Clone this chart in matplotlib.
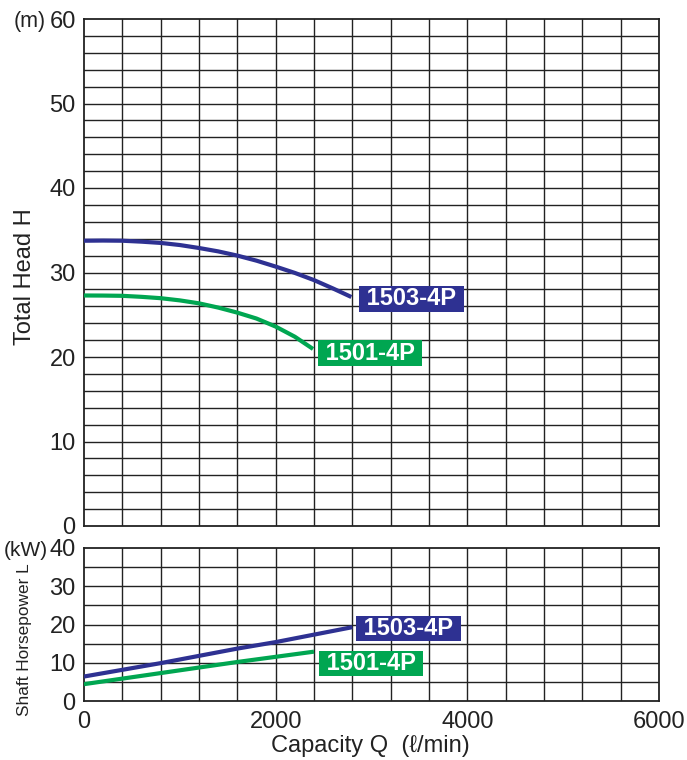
import matplotlib
matplotlib.use("Agg")
import matplotlib.pyplot as plt
import numpy as np

plt.rcParams['font.family'] = ['Liberation Sans', 'DejaVu Sans']

# ---- data ----
models = ["1503-4P", "1501-4P"]
colors = ["#2E3192", "#00A651"]

q_head_1503 = [0, 200, 400, 600, 800, 1000, 1200, 1400, 1600, 1800, 2000, 2200, 2400, 2600, 2790]
h_head_1503 = [33.76, 33.78, 33.76, 33.65, 33.5, 33.25, 32.9, 32.5, 32.0, 31.4, 30.7, 29.95, 29.1, 28.1, 27.1]
q_head_1501 = [0, 200, 400, 600, 800, 1000, 1200, 1400, 1600, 1800, 2000, 2200, 2390]
h_head_1501 = [27.28, 27.27, 27.24, 27.12, 26.96, 26.7, 26.35, 25.85, 25.25, 24.55, 23.6, 22.4, 20.95]

q_pow_1503 = [0, 800, 1600, 2000, 2800]
l_pow_1503 = [6.4, 9.9, 13.7, 15.4, 19.3]
q_pow_1501 = [0, 800, 1600, 2400]
l_pow_1501 = [4.4, 7.3, 10.2, 12.9]

x_ticks = [0, 2000, 4000, 6000]
head_ticks = [0, 10, 20, 30, 40, 50, 60]
pow_ticks = [0, 10, 20, 30, 40]

W, H = 687, 760
fig = plt.figure(figsize=(W / 100, H / 100), dpi=100)

def rect(l, t, r, b):
    return [l / W, 1 - b / H, (r - l) / W, (b - t) / H]

ax1 = fig.add_axes(rect(84, 19, 659, 526))
ax2 = fig.add_axes(rect(84, 548, 659, 701))

gridc = "#222222"
txtc = "#222222"
for ax, ymax, ystep, yticks in [(ax1, 60, 2, head_ticks), (ax2, 40, 5, pow_ticks)]:
    ax.set_xlim(0, 6000)
    ax.set_ylim(0, ymax)
    for xv in np.arange(400, 6000, 400):
        ax.axvline(xv, color=gridc, lw=1.0, zorder=1)
    for yv in np.arange(ystep, ymax, ystep):
        ax.axhline(yv, color=gridc, lw=1.0, zorder=1)
    for s in ax.spines.values():
        s.set_color(gridc)
        s.set_linewidth(1.3)
    ax.set_yticks(yticks)
    ax.tick_params(axis='y', length=0, pad=6, labelsize=17, colors=txtc)
    ax.set_xticks(x_ticks)
    ax.set_xticks([2000, 4000], minor=True)
    ax.tick_params(axis='x', which='major', length=0, pad=7, labelsize=17, colors=txtc)
    ax.tick_params(axis='x', which='minor', length=6, width=1.3, color=gridc, direction='out')

ax1.set_xticklabels([])

# curves
ax1.plot(q_head_1503, h_head_1503, color=colors[0], lw=3, zorder=3, solid_capstyle='butt')
ax1.plot(q_head_1501, h_head_1501, color=colors[1], lw=3, zorder=3, solid_capstyle='butt')
ax2.plot(q_pow_1503, l_pow_1503, color=colors[0], lw=3, zorder=3, solid_capstyle='butt')
ax2.plot(q_pow_1501, l_pow_1501, color=colors[1], lw=3, zorder=3, solid_capstyle='butt')

def label(ax, x, y, text, color, dx, dy):
    ax.annotate(" " + text + " ", xy=(x, y), xytext=(dx, dy), textcoords='offset points',
                ha='left', va='center', color='white', fontsize=17, fontweight='bold',
                bbox=dict(boxstyle='square,pad=0.05', fc=color, ec='none'), zorder=5)

label(ax1, q_head_1503[-1], h_head_1503[-1], models[0], colors[0], 6.5, -1.4)
label(ax1, q_head_1501[-1], h_head_1501[-1], models[1], colors[1], 4.3, -2.9)
label(ax2, q_pow_1503[-1], l_pow_1503[-1], models[0], colors[0], 3.6, -1.0)
label(ax2, q_pow_1501[-1], l_pow_1501[-1], models[1], colors[1], 4.3, -8.3)

# axis labels
fig.text(25 / W, 1 - 277 / H, "Total Head H", rotation=90, ha='center', va='center',
         fontsize=17, color=txtc)
fig.text(25 / W, 1 - 640 / H, "Shaft Horsepower L", rotation=90, ha='center', va='center',
         fontsize=12.4, color=txtc)
fig.text(370 / W, 1 - 746 / H, "Capacity Q  (ℓ/min)", ha='center', va='center',
         fontsize=17, color=txtc)
fig.text(46 / W, 1 - 19 / H, "(m)", ha='right', va='center_baseline', fontsize=15.5, color=txtc)
fig.text(48 / W, 1 - 548 / H, "(kW)", ha='right', va='center_baseline', fontsize=15, color=txtc)

fig.savefig("out.png", dpi=100)
